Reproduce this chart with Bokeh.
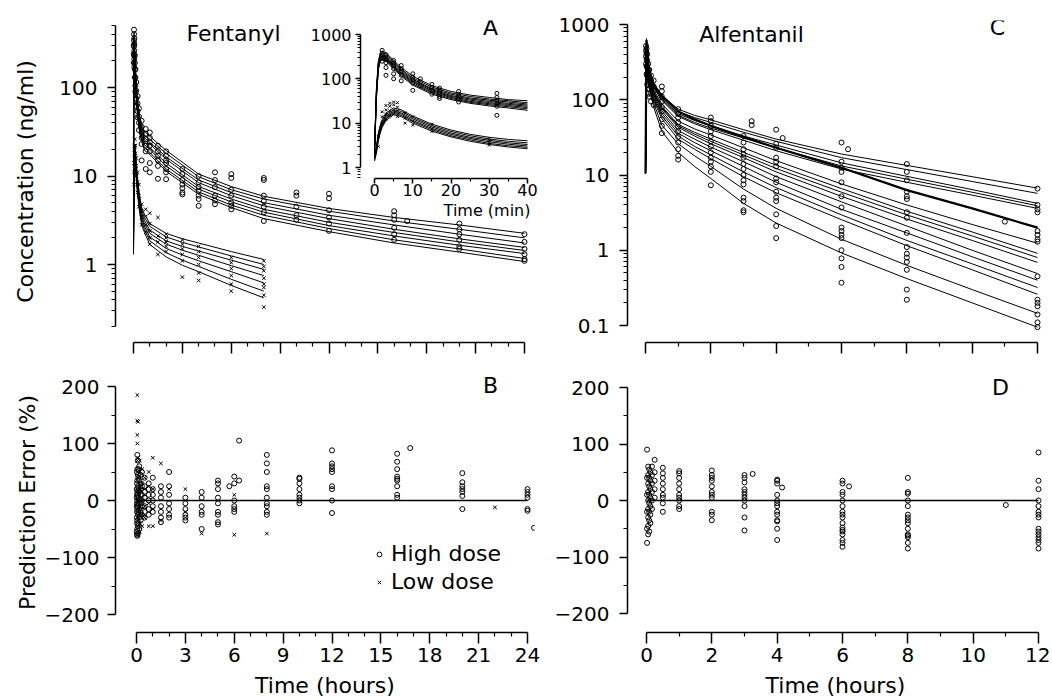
import math
from bokeh.plotting import figure
from bokeh.models import (Range1d, FixedTicker, CustomJSTickFormatter, Label,
                          Legend, LegendItem, Title)
from bokeh.layouts import row, column
from bokeh.embed import file_html
from bokeh.resources import INLINE

FONT = "DejaVu Sans"

# ======================= DATA =======================
# --- tick values
fen_hour_ticks = [0, 3, 6, 9, 12, 15, 18, 21, 24]
fen_hour_minor = [1, 2, 4, 5, 7, 8, 10, 11, 13, 14, 16, 17, 19, 20, 22, 23]
alf_hour_ticks = [0, 2, 4, 6, 8, 10, 12]
alf_hour_minor = [1, 3, 5, 7, 9, 11]
inset_min_ticks = [0, 10, 20, 30, 40]
inset_min_minor = [5, 15, 25, 35]
pe_ticks = [-200, -100, 0, 100, 200]
pe_minor = [-150, -50, 50, 150]
fen_conc_ticks = [1, 10, 100]
alf_conc_ticks = [0.1, 1, 10, 100, 1000]
inset_conc_ticks = [1, 10, 100, 1000]
log_minor = [m * 10.0 ** e for e in range(-1, 3) for m in range(2, 10)]

# --- Panel A: fentanyl fitted curves (ng/ml) vs time (h)
fen_curve_t = [0, 0.017, 0.033, 0.06, 0.1, 0.2, 0.35, 0.5, 0.67, 1, 2, 4, 6, 8, 12, 16, 20, 24]
fen_high_curves = [
    [2.8, 250, 420, 330, 205, 92, 50, 38, 32, 28, 19.5, 10.5, 7.6, 5.9, 4.3, 3.4, 2.8, 2.25],
    [2.6, 230, 390, 305, 190, 86, 47, 35, 29, 26, 18, 9.8, 7.0, 5.5, 4.0, 3.1, 2.5, 2.0],
    [2.5, 215, 360, 285, 178, 80, 44, 33, 27, 24, 16.5, 9.0, 6.5, 5.0, 3.6, 2.8, 2.2, 1.75],
    [2.4, 200, 340, 268, 167, 76, 41, 31, 25.5, 23, 15.5, 8.4, 6.0, 4.6, 3.3, 2.5, 1.95, 1.56],
    [2.3, 190, 320, 252, 158, 72, 39, 29, 24, 21, 14, 7.6, 5.5, 4.2, 3.0, 2.3, 1.8, 1.44],
    [2.2, 180, 300, 238, 149, 68, 37, 27.5, 22.5, 20, 13, 7.1, 5.1, 3.9, 2.75, 2.1, 1.65, 1.33],
    [2.1, 170, 285, 224, 140, 64, 35, 26, 21, 18.5, 12, 6.6, 4.7, 3.6, 2.55, 1.9, 1.5, 1.17],
    [2.0, 160, 270, 212, 132, 60, 33, 24.5, 19.5, 17.5, 11.3, 6.2, 4.4, 3.3, 2.35, 1.75, 1.38, 1.08],
]
fen_low_curve_t = [0, 0.017, 0.033, 0.06, 0.083, 0.117, 0.167, 0.25, 0.35, 0.5, 0.67, 1, 2, 3, 4, 6, 8]
fen_low_curves = [
    [1.9, 6.0, 12, 18, 22, 20, 14.5, 9.5, 6.5, 4.4, 3.7, 2.9, 2.25, 1.95, 1.75, 1.40, 1.14],
    [1.8, 5.5, 11, 16.5, 20, 18.5, 13.5, 8.8, 6.0, 4.1, 3.4, 2.7, 2.05, 1.78, 1.58, 1.25, 1.0],
    [1.7, 5.0, 10, 15, 18.5, 17, 12.5, 8.2, 5.6, 3.8, 3.15, 2.45, 1.85, 1.6, 1.42, 1.12, 0.88],
    [1.6, 4.6, 9.3, 14, 17.5, 16, 11.5, 7.6, 5.2, 3.5, 2.9, 2.25, 1.7, 1.45, 1.27, 0.97, 0.75],
    [1.5, 4.3, 8.7, 13, 16.5, 15, 10.8, 7.1, 4.9, 3.3, 2.7, 2.05, 1.52, 1.28, 1.1, 0.83, 0.62],
    [1.4, 4.0, 8.0, 12, 15.5, 14, 10, 6.6, 4.5, 3.05, 2.5, 1.85, 1.36, 1.12, 0.95, 0.68, 0.50],
    [1.3, 3.7, 7.4, 11, 14.5, 13, 9.3, 6.1, 4.2, 2.8, 2.3, 1.68, 1.22, 0.98, 0.83, 0.58, 0.42],
]
# --- Panel A: observed concentrations
fen_high_obs_t = [0.017, 0.033, 0.05, 0.083, 0.117, 0.167, 0.25, 0.333, 0.5, 0.75, 1, 1.5, 2,
                  3, 4, 5, 6, 8, 10, 12, 16, 16.8, 20, 24]
fen_high_obs = [
    [300, 240, 190], [450, 400, 340, 290, 230], [360, 310, 260, 210, 170],
    [230, 190, 160, 130], [160, 130, 105, 90], [115, 92, 75, 62], [80, 66, 54, 46],
    [58, 47, 40, 33], [42, 36, 31, 27, 23, 15], [34, 30, 26, 22, 19, 12],
    [31, 27, 24, 22, 19, 14, 11], [22, 19, 17, 15, 13, 9.3], [19, 17, 15, 14, 12, 11, 9.2],
    [12, 10.5, 9, 8, 7.3, 6.5, 6.2], [10, 8.5, 7.5, 6.8, 6.0, 5.5, 4.6], [11, 9, 7.5, 6, 5.3, 4.8],
    [10.5, 9.5, 7, 6, 5, 4.6, 4.2], [9.5, 9, 6, 5.2, 4.5, 3.9, 3.1], [6.5, 6.0, 4.5, 3.6, 3.2],
    [6.3, 5.6, 4.1, 3.4, 2.9, 2.4], [4.0, 3.6, 3.2, 2.6, 2.2, 1.9], [3.1],
    [2.9, 2.5, 2.2, 1.9, 1.6, 1.5], [2.2, 1.8, 1.5, 1.3, 1.15, 1.1],
]
fen_low_obs_t = [0.033, 0.05, 0.083, 0.117, 0.167, 0.25, 0.333, 0.5, 0.75, 1, 1.5, 2, 3, 4, 6, 8]
fen_low_obs = [
    [14, 11, 8], [22, 18, 14], [26, 21, 17], [22, 18, 14], [16, 13, 10], [11, 8.5, 6.5],
    [8, 6, 4.5], [4.8, 4.0, 3.4, 2.8], [4.2, 3.5, 2.8, 2.3], [3.8, 2.9, 2.4, 2.0, 1.7],
    [3.4, 2.1, 1.8, 1.3], [2.2, 2.0, 1.8, 1.6, 1.4], [1.9, 1.7, 1.5, 1.3, 1.1, 0.72],
    [1.6, 1.4, 1.2, 1.0, 0.8, 0.66], [1.2, 1.05, 0.9, 0.75, 0.6, 0.5],
    [1.1, 0.95, 0.85, 0.7, 0.6, 0.55, 0.45, 0.33],
]

# --- Inset (first 40 min)
ins_t = [0, 0.5, 1, 1.5, 2, 3, 5, 7, 10, 15, 20, 25, 30, 35, 40]
ins_high_curves = [
    [2.8, 60, 250, 380, 420, 390, 260, 180, 115, 70, 52, 43, 38, 34, 32],
    [2.6, 55, 230, 350, 390, 360, 240, 165, 105, 65, 48, 40, 35, 32, 29],
    [2.5, 50, 215, 325, 360, 335, 225, 155, 98, 60, 45, 37, 33, 30, 27],
    [2.4, 47, 200, 305, 340, 315, 210, 145, 92, 57, 42, 35, 31, 28, 25.5],
    [2.3, 44, 190, 288, 320, 300, 198, 137, 87, 54, 40, 33, 29, 26.5, 24],
    [2.2, 41, 180, 272, 300, 282, 187, 130, 82, 51, 38, 31, 27.5, 25, 22.5],
    [2.1, 38, 170, 258, 285, 265, 176, 122, 77, 48, 36, 29.5, 26, 23.5, 21],
    [2.0, 36, 160, 245, 270, 250, 165, 115, 72, 45, 34, 28, 24.5, 22, 19.5],
]
ins_low_curves = [
    [1.9, 3.0, 6, 9, 12, 17, 22, 20, 14.5, 9.5, 7.0, 5.6, 4.8, 4.3, 4.0],
    [1.8, 2.8, 5.5, 8.2, 11, 15.5, 20, 18.5, 13.5, 8.8, 6.5, 5.2, 4.4, 3.9, 3.6],
    [1.7, 2.6, 5.0, 7.5, 10, 14.5, 18.5, 17, 12.5, 8.2, 6.0, 4.8, 4.1, 3.6, 3.3],
    [1.6, 2.4, 4.6, 7.0, 9.3, 13.5, 17.5, 16, 11.5, 7.6, 5.6, 4.5, 3.8, 3.35, 3.05],
    [1.5, 2.3, 4.3, 6.5, 8.7, 12.5, 16.5, 15, 10.8, 7.1, 5.2, 4.2, 3.5, 3.1, 2.85],
    [1.4, 2.1, 4.0, 6.0, 8.0, 11.5, 15.5, 14, 10, 6.6, 4.9, 3.9, 3.3, 2.9, 2.65],
]
ins_high_obs_t = [2, 3, 5, 7, 10, 12, 15, 17, 22, 32]
ins_high_obs = [
    [440, 380, 330, 290, 250], [350, 300, 270, 230, 180, 120], [260, 230, 200, 170, 130, 100],
    [200, 170, 150, 120, 90], [130, 110, 95, 80, 55], [100, 85, 70], [75, 65, 55, 45],
    [62, 55, 48, 40, 36], [52, 45, 40, 35, 30], [47, 38, 33, 28, 24, 15],
]
ins_low_obs_t = [1, 2, 3, 4, 5, 6, 8, 10, 15, 30]
ins_low_obs = [
    [3.0, 5.0], [10, 14, 18], [12, 16, 20, 25], [15, 19, 24, 28], [16, 20, 26, 30],
    [14, 19, 23, 29], [10, 13, 17], [9, 11, 14], [6.5, 7.5, 9.5], [3.2, 3.6, 4.0, 4.5],
]

# --- Panel B: fentanyl prediction error (%)
fen_pe_high_t = [0.017, 0.033, 0.05, 0.083, 0.117, 0.167, 0.25, 0.333, 0.5, 0.75, 1, 1.5, 2, 3, 4,
                 5, 5.7, 6, 6.3, 8, 10, 12, 16, 16.8, 20, 24, 24.4]
fen_pe_high = [
    [20, 5, -10, -30, -55], [50, 30, 10, -5, -20, -40, -60], [80, 55, 35, 15, 0, -15, -35, -50, -62],
    [70, 45, 25, 10, -10, -25, -45, -58], [55, 40, 20, 5, -5, -20, -40], [60, 35, 15, 0, -15, -30, -50],
    [45, 30, 20, 10, -5, -20, -35], [50, 25, 10, 0, -10, -25], [40, 25, 15, 5, -10, -20, -30],
    [30, 20, 10, 0, -15, -25], [40, 20, 10, 0, -10, -20], [25, 15, 5, -10, -20, -30, -38],
    [50, 25, 10, -5, -15, -25, -30], [5, -5, -15, -25, -30, -35], [15, 5, -10, -20, -25, -50],
    [35, 30, 20, 5, -5, -20, -25, -38, -42], [25], [42, 30, 0, -10, -15, -20], [105, 35],
    [80, 65, 50, 25, 20, 5, -5, -10, -20, -25], [40, 38, 30, 20, 10, 5, 0, -5],
    [88, 65, 60, 55, 50, 25, 20, 0, -22], [82, 68, 55, 42, 38, 35, 25, 10, 5], [92],
    [48, 32, 25, 20, 15, 8, -15], [20, 15, 10, 5, -15, -18], [-48],
]
fen_pe_low_t = [0.05, 0.1, 0.2, 0.35, 0.5, 0.75, 1, 1.5, 2, 3, 4, 6, 8, 22]
fen_pe_low = [
    [185, 140, 115, 100, 70], [138, 75, 40, 0, -30, -60], [70, 50, 20, -10, -40, -55],
    [55, 30, 0, -25, -45], [40, 20, -10, -30], [50, 25, -5, -45], [75, 20, -15, -45],
    [65, -35], [20], [20, -20], [-58], [10, -60], [-58], [-12],
]
fen_zero_t = [0, 24]
zero_pe = [0, 0]

# --- Panel C: alfentanil fitted curves
alf_curve_t = [0, 0.03, 0.1, 0.25, 0.5, 1, 1.5, 2, 3, 4, 6, 8, 10, 12]
alf_curves = [
    [10.5, 650, 260, 165, 115, 75, 62, 54, 40, 30, 19, 13.4, 9.5, 6.7],
    [10.5, 600, 250, 160, 110, 70, 58, 50, 37, 28, 17, 11.8, 8.2, 5.7],
    [10.5, 560, 240, 152, 104, 65, 53, 45, 33, 25, 14.5, 9.6, 6.4, 4.2],
    [10.5, 540, 236, 148, 101, 62, 50, 42, 31, 23, 13.2, 8.8, 5.9, 3.9],
    [10.5, 520, 232, 145, 98, 60, 48, 40, 29, 21, 12, 8.0, 5.4, 3.6],
    [10.5, 620, 255, 160, 112, 70, 55, 45, 32, 23, 12.5, 6.3, 3.6, 2.0],
    [10.5, 500, 220, 135, 88, 52, 41, 34, 23, 15.5, 7.6, 4.0, 2.2, 1.24],
    [10.5, 480, 212, 128, 82, 47, 37, 30, 20, 13.5, 6.6, 3.3, 1.75, 0.91],
    [10.5, 470, 208, 125, 79, 45, 35, 28, 18.5, 12.2, 5.9, 2.95, 1.55, 0.80],
    [10.5, 460, 205, 122, 76, 43, 33, 26, 17, 11, 5.2, 2.6, 1.35, 0.69],
    [10.5, 440, 198, 116, 71, 39, 30, 23.5, 15, 9.5, 4.4, 2.1, 1.0, 0.49],
    [10.5, 420, 190, 110, 66, 36, 27, 21, 13, 8.0, 3.5, 1.7, 0.82, 0.40],
    [10.5, 400, 182, 104, 61, 33, 24, 18.5, 11, 6.8, 2.95, 1.35, 0.66, 0.32],
    [10.5, 380, 175, 98, 56, 30, 22, 16.5, 9.5, 5.8, 2.55, 1.15, 0.55, 0.26],
    [10.5, 360, 165, 90, 46, 26, 18, 13, 6.5, 3.6, 1.4, 0.63, 0.30, 0.145],
    [10.5, 340, 150, 80, 38, 20, 13, 9.0, 4.2, 2.3, 0.92, 0.42, 0.20, 0.095],
]
alf_bold_curve = 5
alf_obs_t = [0.017, 0.033, 0.05, 0.083, 0.117, 0.167, 0.25, 0.5, 1, 2, 3, 3.25, 4, 4.2, 6, 6.2, 8, 11, 12]
alf_obs = [
    [520, 450, 380, 300], [480, 420, 350, 280, 220], [400, 330, 270, 210, 160],
    [300, 250, 200, 160, 120], [250, 200, 170, 140, 110], [210, 180, 150, 120, 95],
    [180, 150, 130, 105, 85], [150, 130, 110, 95, 80, 70, 55, 45, 36],
    [75, 65, 58, 50, 44, 38, 32, 27, 22, 18, 16],
    [58, 52, 45, 38, 33, 28, 24, 20, 17, 15, 13, 11, 7.3],
    [33, 27, 22, 19, 17, 14, 12, 10, 8.5, 7.5, 5, 4.5, 3.4, 3.2], [52, 46],
    [40, 26, 23, 17, 15, 13, 9, 8, 6, 5, 4.5, 3, 2.1, 1.45], [31],
    [27, 15, 12.5, 11, 8, 5.2, 3.7, 2.0, 1.8, 1.6, 1.45, 1.0, 0.78, 0.6, 0.37], [22],
    [14, 11, 8.5, 6, 5.2, 4.8, 3.2, 2.7, 1.7, 1.1, 0.9, 0.8, 0.7, 0.55, 0.3, 0.22], [2.4],
    [6.6, 4.0, 3.5, 3.2, 1.8, 1.6, 1.4, 1.3, 0.45, 0.22, 0.2, 0.18, 0.14, 0.11, 0.095],
]

# --- Panel D: alfentanil prediction error (%)
alf_pe_t = [0.017, 0.05, 0.083, 0.117, 0.167, 0.25, 0.5, 1, 2, 3, 3.25, 4, 4.15, 6, 6.2, 8, 11, 12]
alf_pe = [
    [90, 40, 10, -20, -50, -75], [60, 45, 30, 15, 0, -15, -30, -45, -60],
    [55, 40, 25, 10, -5, -20, -35, -55], [50, 35, 20, 5, -10, -25, -40],
    [60, 45, 30, 15, 0, -15], [72, 50, 35, 20, 5], [58, 48, 40, 30, 20, 10, 5, -5, -20],
    [52, 48, 40, 30, 20, 10, 5, 0, -10, -15], [53, 45, 40, 35, 25, 15, 10, 5, -20, -25, -35],
    [45, 40, 32, 20, 15, 10, 5, 0, -10, -30, -53], [47],
    [37, 35, 30, 10, 0, -5, -10, -20, -25, -35, -37, -50, -70], [23],
    [35, 30, 15, 10, 0, -10, -20, -25, -30, -40, -48, -52, -55, -60, -70, -75, -82], [25],
    [40, 15, 12, 0, -10, -25, -30, -35, -40, -50, -60, -62, -65, -75, -85], [-8],
    [85, 35, 20, 0, -10, -20, -25, -30, -50, -55, -60, -65, -70, -75, -85],
]
alf_zero_t = [0, 12]


# ======================= HELPERS =======================
def flat(times, groups):
    xs, ys = [], []
    for t, vals in zip(times, groups):
        for v in vals:
            xs.append(t)
            ys.append(v)
    return xs, ys


def lin_map(va, pa, vb, pb):
    k = (vb - va) / (pb - pa)
    return lambda p: va + (p - pa) * k


def log_map(va, pa, vb, pb):
    la, lb = math.log10(va), math.log10(vb)
    k = (lb - la) / (pb - pa)
    return lambda p: 10 ** (la + (p - pa) * k)


JS_FMT = "return String(tick).replace('-', '\u2212');"


def style_axis(ax, tick_out, minor_out, label_px, standoff):
    ax.axis_line_color = "black"
    ax.axis_line_width = 1.5
    ax.major_tick_line_color = "black"
    ax.major_tick_line_width = 1.5
    ax.minor_tick_line_color = "black"
    ax.minor_tick_line_width = 1.2
    ax.major_tick_in = 0
    ax.major_tick_out = tick_out
    ax.minor_tick_in = 0
    ax.minor_tick_out = minor_out
    ax.major_label_text_font = FONT
    ax.major_label_text_font_size = label_px
    ax.major_label_text_color = "black"
    ax.major_label_standoff = standoff
    ax.axis_label_text_font = FONT
    ax.axis_label_text_font_style = "normal"
    ax.axis_label_text_font_size = "22px"
    ax.axis_label_text_color = "black"
    ax.formatter = CustomJSTickFormatter(code=JS_FMT)


def blank_labels(ax):
    ax.formatter = CustomJSTickFormatter(code="return '';")
    ax.major_label_text_font_size = "1px"
    ax.major_label_standoff = 0


def make_fig(xr, yr, ylog, fw, fh, bl, br, bt, bb, transparent=False):
    p = figure(x_range=xr, y_range=yr, y_axis_type="log" if ylog else "linear",
               frame_width=fw, frame_height=fh, min_border_left=bl, min_border_right=br,
               min_border_top=bt, min_border_bottom=bb, toolbar_location=None,
               output_backend="svg")
    p.grid.visible = False
    p.outline_line_color = None
    if transparent:
        p.background_fill_color = None
        p.border_fill_color = None
    else:
        p.background_fill_color = "white"
        p.border_fill_color = "white"
    return p


def panel_text(p, x, y, text, size="22px", align="center"):
    p.add_layout(Label(x=x, y=y, text=text, text_font=FONT, text_font_size=size,
                       text_color="black", text_align=align, text_baseline="middle"))


# ======================= GEOMETRY (page pixels) =======================
MID = 540      # left edge of right column
RIGHT = 1050   # right edge of layout
BOTTOM = 699   # bottom edge of layout
fen_x = lin_map(0, 132, 24, 523)
alf_x = lin_map(0, 645, 12, 1037)
a_y = log_map(1, 264, 100, 87)
b_y = lin_map(-200, 614, 200, 386)
c_y = log_map(0.1, 325, 1000, 24)
d_y = lin_map(-200, 613, 200, 387)
in_x = lin_map(0, 374, 40, 527)
in_y = log_map(1, 167, 1000, 34)

# ======================= PANEL A =======================
pA = make_fig(Range1d(fen_x(114), fen_x(530)), Range1d(a_y(342), a_y(20)), True,
              416, 322, 114, MID - 530, 20, 20)
pA.multi_line([fen_curve_t] * len(fen_high_curves), fen_high_curves, line_color="black", line_width=1)
pA.multi_line([fen_low_curve_t] * len(fen_low_curves), fen_low_curves, line_color="black", line_width=1)
hx, hy = flat(fen_high_obs_t, fen_high_obs)
pA.scatter(hx, hy, marker="circle", size=5, line_color="black", fill_color=None, line_width=1)
lx, ly = flat(fen_low_obs_t, fen_low_obs)
pA.scatter(lx, ly, marker="x", size=5, line_color="black", line_width=1)
ya = pA.yaxis[0]
style_axis(ya, 8, 4, "20px", 10)
ya.ticker = FixedTicker(ticks=fen_conc_ticks, minor_ticks=log_minor)
ya.bounds = (0.2, 500)
ya.axis_label = "Concentration (ng/ml)"
ya.axis_label_standoff = 18
xa = pA.xaxis[0]
style_axis(xa, 11, 4, "20px", 0)
blank_labels(xa)
xa.ticker = FixedTicker(ticks=fen_hour_ticks, minor_ticks=fen_hour_minor)
xa.bounds = (0, 24)
panel_text(pA, fen_x(232), a_y(33), "Fentanyl")
panel_text(pA, fen_x(489), a_y(27), "A")

# ---- inset (absolutely positioned over panel A)
INSET_LEFT_BORDER = 115
pI = make_fig(Range1d(in_x(360), in_x(530)), Range1d(in_y(178), in_y(28)), True,
              170, 150, INSET_LEFT_BORDER, 8, 6, 46, transparent=True)
pI.styles = {"position": "absolute", "left": f"{360 - INSET_LEFT_BORDER}px", "top": "22px",
             "z-index": "5"}
pI.multi_line([ins_t] * len(ins_high_curves), ins_high_curves, line_color="black", line_width=1)
pI.multi_line([ins_t] * len(ins_low_curves), ins_low_curves, line_color="black", line_width=1)
ihx, ihy = flat(ins_high_obs_t, ins_high_obs)
pI.scatter(ihx, ihy, marker="circle", size=4, line_color="black", fill_color=None, line_width=1)
ilx, ily = flat(ins_low_obs_t, ins_low_obs)
pI.scatter(ilx, ily, marker="x", size=4, line_color="black", line_width=1)
yi = pI.yaxis[0]
style_axis(yi, 5, 3, "16px", 4)
yi.ticker = FixedTicker(ticks=inset_conc_ticks, minor_ticks=log_minor)
yi.bounds = (1, 1000)
xi = pI.xaxis[0]
style_axis(xi, 5, 3, "16px", 0)
xi.ticker = FixedTicker(ticks=inset_min_ticks, minor_ticks=inset_min_minor)
xi.bounds = (0, 40)
pI.add_layout(Title(text="Time (min)", align="right", text_font=FONT, text_font_size="16px",
                    text_font_style="normal", text_color="black", standoff=0), "below")

# ======================= PANEL B =======================
pB = make_fig(Range1d(fen_x(111), fen_x(530)), Range1d(b_y(632), b_y(372)), False,
              419, 260, 111, MID - 530, 10, BOTTOM - 632)
pB.line(fen_zero_t, zero_pe, line_color="black", line_width=1.5)
bhx, bhy = flat(fen_pe_high_t, fen_pe_high)
rh = pB.scatter(bhx, bhy, marker="circle", size=5, line_color="black", fill_color=None, line_width=1)
blx, bly = flat(fen_pe_low_t, fen_pe_low)
rl = pB.scatter(blx, bly, marker="x", size=5, line_color="black", line_width=1)
yb = pB.yaxis[0]
style_axis(yb, 8, 4, "20px", 8)
yb.ticker = FixedTicker(ticks=pe_ticks, minor_ticks=pe_minor)
yb.bounds = (-200, 200)
yb.axis_label = "Prediction Error (%)"
yb.axis_label_standoff = 2
xb = pB.xaxis[0]
style_axis(xb, 11, 4, "20px", 4)
xb.ticker = FixedTicker(ticks=fen_hour_ticks, minor_ticks=fen_hour_minor)
xb.bounds = (0, 24)
xb.axis_label = "Time (hours)"
xb.axis_label_standoff = 8
panel_text(pB, fen_x(486), b_y(385), "B")
leg = Legend(items=[LegendItem(label="High dose", renderers=[rh]),
                    LegendItem(label="Low dose", renderers=[rl])],
             location=(369 - 111, 632 - 594), border_line_color=None,
             background_fill_alpha=0, label_text_font=FONT, label_text_font_size="22px",
             label_text_color="black", glyph_width=12, glyph_height=22, label_standoff=6,
             spacing=3, padding=0, margin=0)
pB.add_layout(leg)

# ======================= PANEL C =======================
pC = make_fig(Range1d(alf_x(627), alf_x(1042)), Range1d(c_y(342), c_y(20)), True,
              415, 322, 627 - MID, RIGHT - 1042, 20, 20)
pC.multi_line([alf_curve_t] * len(alf_curves), alf_curves, line_color="black", line_width=1)
pC.line(alf_curve_t, alf_curves[alf_bold_curve], line_color="black", line_width=2.2)
cx, cy = flat(alf_obs_t, alf_obs)
pC.scatter(cx, cy, marker="circle", size=5, line_color="black", fill_color=None, line_width=1)
yc = pC.yaxis[0]
style_axis(yc, 8, 4, "20px", 10)
yc.ticker = FixedTicker(ticks=alf_conc_ticks, minor_ticks=log_minor)
yc.bounds = (0.1, 1000)
xc = pC.xaxis[0]
style_axis(xc, 11, 4, "20px", 0)
blank_labels(xc)
xc.ticker = FixedTicker(ticks=alf_hour_ticks, minor_ticks=alf_hour_minor)
xc.bounds = (0, 12)
panel_text(pC, alf_x(751), c_y(34), "Alfentanil")
panel_text(pC, alf_x(997), c_y(27), "C")

# ======================= PANEL D =======================
pD = make_fig(Range1d(alf_x(626), alf_x(1042)), Range1d(d_y(632), d_y(372)), False,
              416, 260, 626 - MID, RIGHT - 1042, 10, BOTTOM - 632)
pD.line(alf_zero_t, zero_pe, line_color="black", line_width=1.5)
dx, dy = flat(alf_pe_t, alf_pe)
pD.scatter(dx, dy, marker="circle", size=5, line_color="black", fill_color=None, line_width=1)
yd = pD.yaxis[0]
style_axis(yd, 8, 4, "20px", 10)
yd.ticker = FixedTicker(ticks=pe_ticks, minor_ticks=pe_minor)
yd.bounds = (-200, 200)
xd = pD.xaxis[0]
style_axis(xd, 11, 4, "20px", 4)
xd.ticker = FixedTicker(ticks=alf_hour_ticks, minor_ticks=alf_hour_minor)
xd.bounds = (0, 12)
xd.axis_label = "Time (hours)"
xd.axis_label_standoff = 8
panel_text(pD, alf_x(999), d_y(387), "D")

layout = row(column(pA, pI, pB), column(pC, pD))
open("out.html", "w").write(file_html(layout, INLINE))
